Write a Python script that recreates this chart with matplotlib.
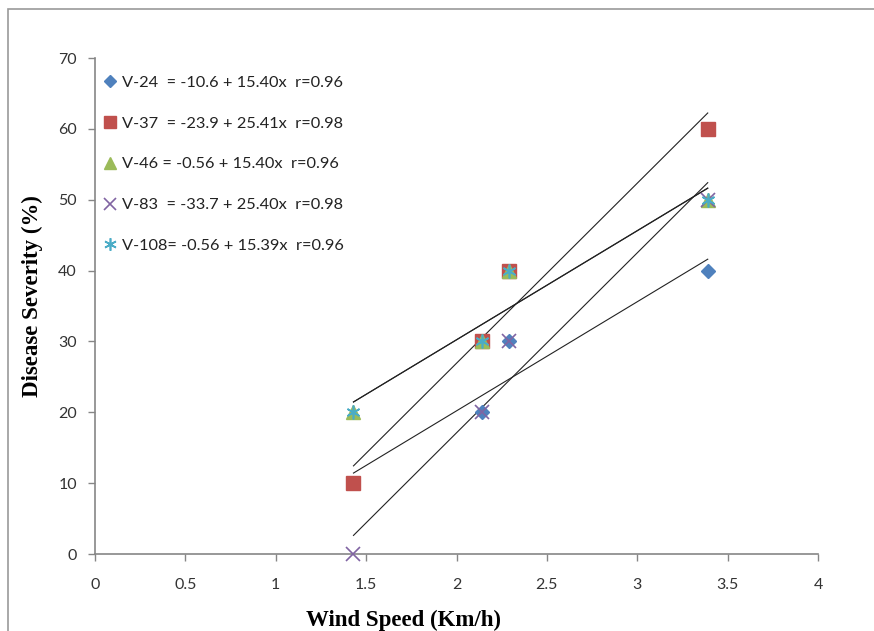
import matplotlib
matplotlib.use("Agg")
import matplotlib.pyplot as plt
from matplotlib.lines import Line2D
from matplotlib.patches import Rectangle
import numpy as np

# ---- data ----
wind_speed = [1.43, 2.14, 2.29, 3.39]
varieties = ["V-24", "V-37", "V-46", "V-83", "V-108"]
severity = {
    "V-24": [10, 20, 30, 40],
    "V-37": [10, 30, 40, 60],
    "V-46": [20, 30, 40, 50],
    "V-83": [0, 20, 30, 50],
    "V-108": [20, 30, 40, 50],
}
intercepts = [-10.6, -23.9, -0.56, -33.7, -0.56]
slopes = [15.40, 25.41, 15.40, 25.40, 15.39]
legend_labels = [
    "V-24  = -10.6 + 15.40x  r=0.96",
    "V-37  = -23.9 + 25.41x  r=0.98",
    "V-46 = -0.56 + 15.40x  r=0.96",
    "V-83  = -33.7 + 25.40x  r=0.98",
    "V-108= -0.56 + 15.39x  r=0.96",
]
x_ticks = [0, 0.5, 1, 1.5, 2, 2.5, 3, 3.5, 4]
y_ticks = [0, 10, 20, 30, 40, 50, 60, 70]

# ---- styles ----
colors = ["#4F81BD", "#C0504D", "#9BBB59", "#8064A2", "#4BACC6"]
markers = ["D", "s", "^", "x", (6, 2, 0)]
msizes = [7.5, 10, 9.5, 10, 10]

W, H = 874, 631
fig = plt.figure(figsize=(W / 100, H / 100), dpi=100)
fig.patch.set_facecolor("white")

# outer chart border
fig.patches.append(Rectangle((8 / W, -0.1), 1.2, (H - 9) / H + 0.1,
                             transform=fig.transFigure, fill=False,
                             edgecolor="#9a9a9a", linewidth=1.2))

ax = fig.add_axes([95 / W, 77 / H, 723 / W, 496 / H])
ax.set_xlim(0, 4)
ax.set_ylim(0, 70)

xs = np.array([min(wind_speed), max(wind_speed)])
handles = []
for i, v in enumerate(varieties):
    ax.plot(xs, intercepts[i] + slopes[i] * xs, color="#222222", lw=0.8,
            zorder=2)
for i, v in enumerate(varieties):
    mk = markers[i]
    filled = mk in ("D", "s", "^")
    ax.plot(wind_speed, severity[v], linestyle="none", marker=mk,
            markersize=msizes[i], color=colors[i],
            markeredgewidth=1.0 if filled else 1.2, zorder=3 + i,
            clip_on=False)
    handles.append(Line2D([], [], linestyle="none", marker=mk,
                          markersize=msizes[i] - 1, color=colors[i],
                          markeredgewidth=1.0 if filled else 1.2))

for s in ["top", "right"]:
    ax.spines[s].set_visible(False)
for s in ["left", "bottom"]:
    ax.spines[s].set_color("#868686")
    ax.spines[s].set_linewidth(1.2)

ax.set_xticks(x_ticks)
ax.set_xticklabels([f"{t:g}" for t in x_ticks])
ax.set_yticks(y_ticks)
ax.tick_params(axis="both", direction="out", length=5, width=1,
               color="#868686", labelcolor="#333333", labelsize=11.5)
ax.tick_params(axis="x", pad=12)
ax.tick_params(axis="y", pad=8)
for lab in ax.get_xticklabels() + ax.get_yticklabels():
    lab.set_fontfamily("Lato")

ax.set_xlabel("Wind Speed (Km/h)", fontfamily="Liberation Serif",
              fontweight="bold", fontsize=16.5, va="top")
ax.set_ylabel("Disease Severity (%)", fontfamily="Liberation Serif",
              fontweight="bold", fontsize=16.5, va="center")
ax.xaxis.set_label_coords((404 - 95) / 723, (554 - 610) / 496)
ax.yaxis.set_label_coords((32 - 95) / 723, (554 - 296) / 496)

leg = ax.legend(handles, legend_labels, loc="upper left",
                bbox_to_anchor=(-0.003, 0.985), frameon=False,
                prop={"family": "Lato", "size": 11.8},
                handlelength=0.9, handletextpad=0.3, labelspacing=1.61,
                borderaxespad=0.2)
for t in leg.get_texts():
    t.set_color("#222222")

fig.savefig("out.png", dpi=100, facecolor="white")
